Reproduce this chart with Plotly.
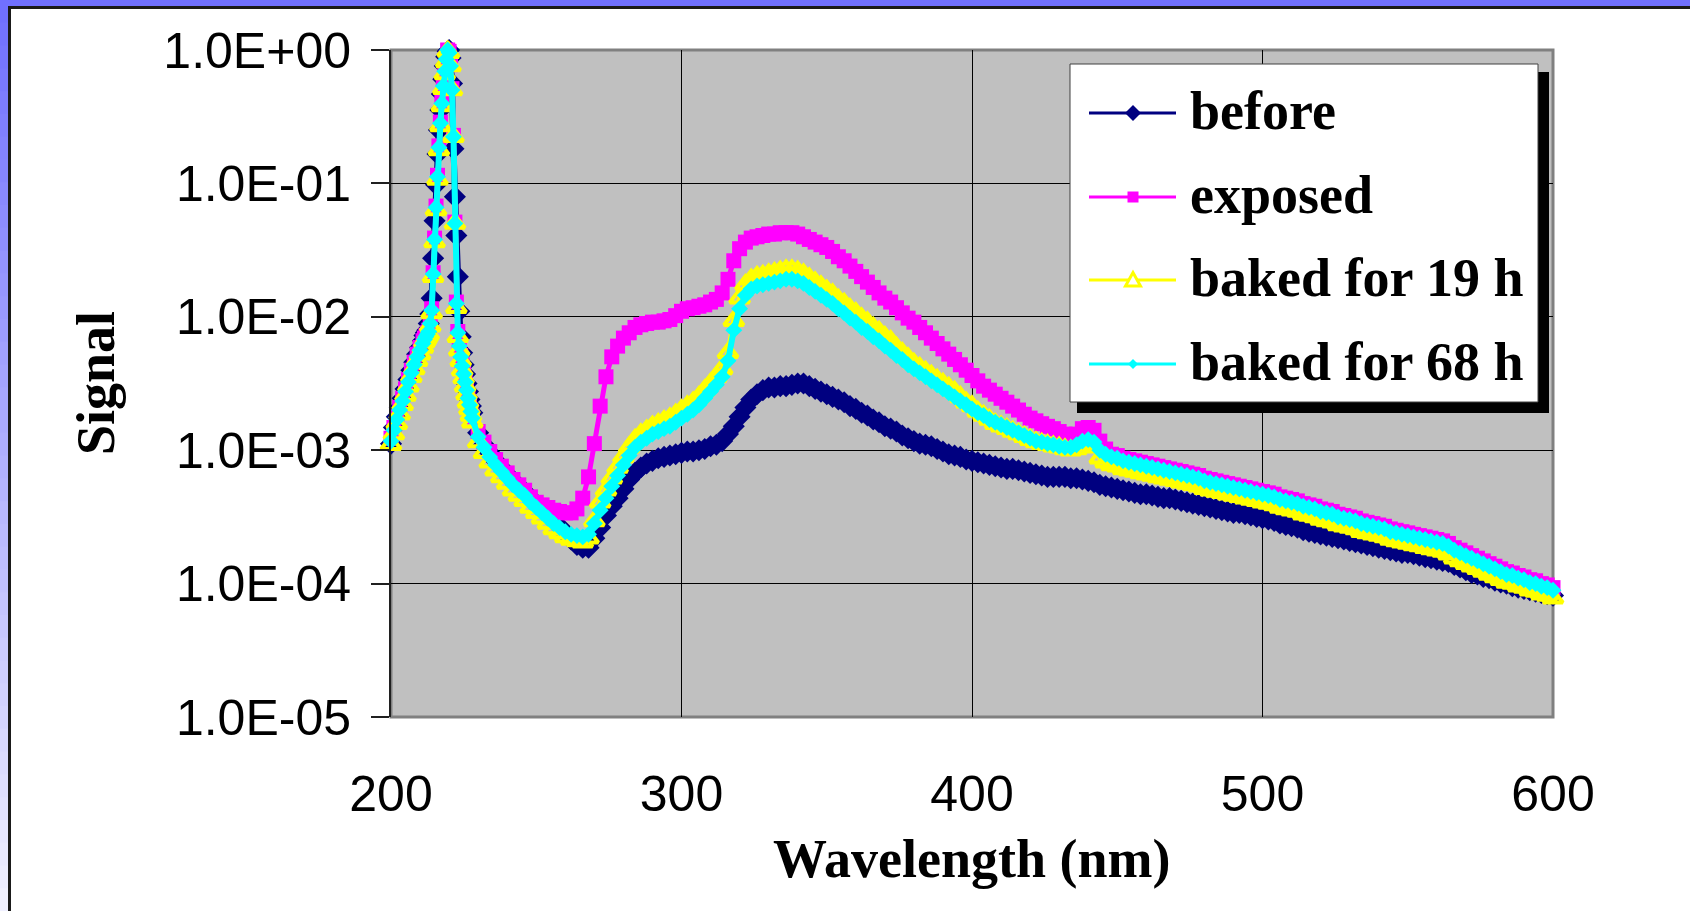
import numpy as np
import plotly.graph_objects as go

# ---------------------------------------------------------------- data
# wavelength grid (nm): 1 nm steps, 0.5 nm around the 220 nm line, 2 nm above
wavelength = np.concatenate([
    np.arange(200, 211.5, 1.0),
    np.arange(211.5, 228.25, 0.5),
    np.arange(230, 600.5, 2.0),
])

before = [
    1.12e-3, 1.48e-3, 1.78e-3, 2.09e-3, 2.45e-3, 2.88e-3, 3.39e-3, 3.98e-3, 4.57e-3, 5.25e-3, 5.89e-3, 6.61e-3,
    7.24e-3, 7.59e-3, 7.94e-3, 8.91e-3, 1.05e-2, 1.38e-2, 2.75e-2, 5.25e-2, 9.77e-2, 0.166, 0.251, 0.355,
    0.468, 0.603, 0.759, 0.891, 0.977, 1.0, 0.871, 0.562, 0.182, 7.94e-2, 4.07e-2, 2.00e-2, 1.10e-2,
    7.08e-3, 5.37e-3, 4.37e-3, 3.72e-3, 3.16e-3, 2.75e-3, 2.40e-3, 2.14e-3, 1.91e-3,
    1.35e-3, 1.10e-3, 9.55e-4, 8.32e-4, 7.41e-4, 6.61e-4, 5.89e-4, 5.37e-4, 4.90e-4, 4.37e-4,
    3.98e-4, 3.63e-4, 3.31e-4, 2.95e-4, 2.69e-4, 2.40e-4, 2.14e-4, 1.95e-4, 1.86e-4, 1.86e-4,
    2.19e-4, 2.63e-4, 3.24e-4, 3.80e-4, 4.37e-4, 5.13e-4, 6.03e-4, 6.76e-4, 7.41e-4, 7.94e-4,
    8.32e-4, 8.71e-4, 8.91e-4, 9.12e-4, 9.33e-4, 9.55e-4, 9.77e-4, 9.77e-4, 1.00e-3, 1.02e-3,
    1.07e-3, 1.10e-3, 1.17e-3, 1.32e-3, 1.51e-3, 1.78e-3, 2.09e-3, 2.40e-3, 2.63e-3, 2.82e-3,
    2.95e-3, 2.95e-3, 3.02e-3, 3.02e-3, 3.09e-3, 3.16e-3, 3.16e-3, 3.02e-3, 2.88e-3, 2.75e-3,
    2.63e-3, 2.51e-3, 2.40e-3, 2.29e-3, 2.14e-3, 2.04e-3, 1.91e-3, 1.82e-3, 1.70e-3, 1.62e-3,
    1.51e-3, 1.45e-3, 1.38e-3, 1.29e-3, 1.23e-3, 1.17e-3, 1.12e-3, 1.10e-3, 1.07e-3, 1.02e-3,
    9.77e-4, 9.33e-4, 9.12e-4, 8.91e-4, 8.51e-4, 8.32e-4, 8.13e-4, 7.94e-4, 7.76e-4, 7.59e-4,
    7.41e-4, 7.24e-4, 7.24e-4, 7.08e-4, 6.92e-4, 6.76e-4, 6.61e-4, 6.46e-4, 6.31e-4, 6.31e-4,
    6.31e-4, 6.31e-4, 6.17e-4, 6.17e-4, 6.03e-4, 5.89e-4, 5.75e-4, 5.50e-4, 5.37e-4, 5.25e-4,
    5.13e-4, 5.01e-4, 4.90e-4, 4.79e-4, 4.68e-4, 4.68e-4, 4.57e-4, 4.47e-4, 4.37e-4, 4.37e-4,
    4.27e-4, 4.17e-4, 4.07e-4, 3.98e-4, 3.89e-4, 3.80e-4, 3.72e-4, 3.63e-4, 3.55e-4, 3.47e-4,
    3.39e-4, 3.39e-4, 3.31e-4, 3.24e-4, 3.16e-4, 3.09e-4, 3.02e-4, 2.95e-4, 2.82e-4, 2.75e-4,
    2.69e-4, 2.63e-4, 2.51e-4, 2.45e-4, 2.40e-4, 2.34e-4, 2.29e-4, 2.24e-4, 2.19e-4, 2.14e-4,
    2.09e-4, 2.04e-4, 2.00e-4, 1.95e-4, 1.91e-4, 1.86e-4, 1.82e-4, 1.78e-4, 1.74e-4, 1.70e-4,
    1.70e-4, 1.66e-4, 1.62e-4, 1.58e-4, 1.55e-4, 1.51e-4, 1.48e-4, 1.45e-4, 1.38e-4, 1.32e-4,
    1.26e-4, 1.20e-4, 1.17e-4, 1.12e-4, 1.10e-4, 1.05e-4, 1.02e-4, 1.00e-4, 9.55e-5, 9.33e-5,
    9.12e-5, 8.91e-5, 8.71e-5, 8.51e-5, 8.32e-5, 8.13e-5,
]

exposed = [
    1.23e-3, 1.48e-3, 1.78e-3, 2.09e-3, 2.45e-3, 2.88e-3, 3.39e-3, 3.98e-3, 4.57e-3, 5.25e-3, 5.89e-3, 6.61e-3,
    6.92e-3, 7.24e-3, 7.59e-3, 7.94e-3, 9.12e-3, 1.15e-2, 2.14e-2, 3.89e-2, 6.76e-2, 0.115, 0.191, 0.288,
    0.407, 0.550, 0.708, 0.871, 1.0, 0.977, 0.776, 0.513, 0.229, 5.13e-2, 1.29e-2, 7.76e-3, 6.17e-3,
    5.13e-3, 4.37e-3, 3.80e-3, 3.31e-3, 2.88e-3, 2.51e-3, 2.24e-3, 2.00e-3, 1.78e-3,
    1.38e-3, 1.15e-3, 9.77e-4, 8.51e-4, 7.59e-4, 6.76e-4, 6.03e-4, 5.50e-4, 5.01e-4, 4.47e-4,
    4.07e-4, 3.89e-4, 3.72e-4, 3.55e-4, 3.47e-4, 3.39e-4, 3.39e-4, 3.63e-4, 4.37e-4, 6.31e-4,
    1.12e-3, 2.14e-3, 3.55e-3, 5.01e-3, 6.03e-3, 6.92e-3, 7.59e-3, 8.32e-3, 8.71e-3, 8.91e-3,
    9.12e-3, 9.12e-3, 9.33e-3, 9.55e-3, 1.02e-2, 1.10e-2, 1.15e-2, 1.17e-2, 1.20e-2, 1.23e-2,
    1.29e-2, 1.35e-2, 1.51e-2, 1.91e-2, 2.63e-2, 3.24e-2, 3.63e-2, 3.89e-2, 3.98e-2, 4.07e-2,
    4.17e-2, 4.17e-2, 4.27e-2, 4.27e-2, 4.27e-2, 4.17e-2, 3.98e-2, 3.80e-2, 3.63e-2, 3.47e-2,
    3.31e-2, 3.09e-2, 2.82e-2, 2.63e-2, 2.40e-2, 2.19e-2, 2.00e-2, 1.82e-2, 1.66e-2, 1.51e-2,
    1.38e-2, 1.29e-2, 1.17e-2, 1.07e-2, 9.77e-3, 9.12e-3, 8.32e-3, 7.59e-3, 6.92e-3, 6.31e-3,
    5.75e-3, 5.25e-3, 4.79e-3, 4.37e-3, 3.98e-3, 3.63e-3, 3.31e-3, 3.02e-3, 2.82e-3, 2.63e-3,
    2.45e-3, 2.29e-3, 2.14e-3, 2.00e-3, 1.86e-3, 1.74e-3, 1.66e-3, 1.58e-3, 1.51e-3, 1.45e-3,
    1.38e-3, 1.32e-3, 1.29e-3, 1.32e-3, 1.45e-3, 1.48e-3, 1.41e-3, 1.17e-3, 1.02e-3, 9.33e-4,
    9.12e-4, 8.71e-4, 8.51e-4, 8.32e-4, 8.13e-4, 7.94e-4, 7.76e-4, 7.59e-4, 7.41e-4, 7.24e-4,
    7.08e-4, 6.92e-4, 6.76e-4, 6.61e-4, 6.46e-4, 6.17e-4, 6.03e-4, 5.89e-4, 5.75e-4, 5.62e-4,
    5.50e-4, 5.37e-4, 5.25e-4, 5.13e-4, 5.01e-4, 4.90e-4, 4.79e-4, 4.68e-4, 4.47e-4, 4.37e-4,
    4.27e-4, 4.17e-4, 3.98e-4, 3.89e-4, 3.80e-4, 3.63e-4, 3.55e-4, 3.47e-4, 3.31e-4, 3.24e-4,
    3.16e-4, 3.09e-4, 2.95e-4, 2.88e-4, 2.82e-4, 2.75e-4, 2.69e-4, 2.57e-4, 2.51e-4, 2.45e-4,
    2.40e-4, 2.34e-4, 2.29e-4, 2.24e-4, 2.19e-4, 2.14e-4, 2.09e-4, 2.00e-4, 1.86e-4, 1.78e-4,
    1.70e-4, 1.62e-4, 1.55e-4, 1.48e-4, 1.41e-4, 1.35e-4, 1.29e-4, 1.23e-4, 1.20e-4, 1.15e-4,
    1.12e-4, 1.07e-4, 1.05e-4, 1.00e-4, 9.77e-5, 9.33e-5,
]

baked_19h = [
    1.10e-3, 1.32e-3, 1.58e-3, 1.86e-3, 2.19e-3, 2.57e-3, 3.02e-3, 3.55e-3, 4.07e-3, 4.68e-3, 5.25e-3, 5.89e-3,
    6.46e-3, 6.76e-3, 7.08e-3, 7.41e-3, 8.51e-3, 1.07e-2, 2.00e-2, 3.63e-2, 6.31e-2, 0.107, 0.178, 0.269,
    0.380, 0.513, 0.661, 0.813, 0.977, 0.955, 0.759, 0.501, 0.224, 5.01e-2, 1.17e-2, 7.08e-3, 5.62e-3,
    4.68e-3, 3.98e-3, 3.47e-3, 3.02e-3, 2.63e-3, 2.29e-3, 2.04e-3, 1.82e-3, 1.62e-3,
    1.15e-3, 9.55e-4, 8.13e-4, 7.08e-4, 6.31e-4, 5.62e-4, 5.01e-4, 4.57e-4, 4.17e-4, 3.72e-4,
    3.39e-4, 3.09e-4, 2.82e-4, 2.57e-4, 2.40e-4, 2.24e-4, 2.14e-4, 2.09e-4, 2.04e-4, 2.19e-4,
    2.95e-4, 4.07e-4, 5.01e-4, 6.17e-4, 7.41e-4, 8.91e-4, 1.05e-3, 1.20e-3, 1.32e-3, 1.41e-3,
    1.51e-3, 1.58e-3, 1.66e-3, 1.74e-3, 1.86e-3, 2.00e-3, 2.14e-3, 2.29e-3, 2.51e-3, 2.82e-3,
    3.16e-3, 3.55e-3, 4.07e-3, 5.37e-3, 9.33e-3, 1.38e-2, 1.74e-2, 1.91e-2, 2.00e-2, 2.04e-2,
    2.09e-2, 2.14e-2, 2.19e-2, 2.24e-2, 2.24e-2, 2.19e-2, 2.09e-2, 1.95e-2, 1.82e-2, 1.70e-2,
    1.58e-2, 1.48e-2, 1.35e-2, 1.26e-2, 1.15e-2, 1.07e-2, 9.77e-3, 9.12e-3, 8.32e-3, 7.76e-3,
    7.08e-3, 6.61e-3, 5.89e-3, 5.37e-3, 4.90e-3, 4.47e-3, 4.17e-3, 3.89e-3, 3.63e-3, 3.39e-3,
    3.16e-3, 2.95e-3, 2.75e-3, 2.51e-3, 2.29e-3, 2.14e-3, 1.95e-3, 1.82e-3, 1.70e-3, 1.58e-3,
    1.51e-3, 1.45e-3, 1.38e-3, 1.32e-3, 1.26e-3, 1.20e-3, 1.15e-3, 1.12e-3, 1.10e-3, 1.07e-3,
    1.05e-3, 1.02e-3, 1.00e-3, 1.02e-3, 1.10e-3, 1.12e-3, 1.05e-3, 8.71e-4, 8.13e-4, 7.76e-4,
    7.59e-4, 7.24e-4, 7.08e-4, 6.92e-4, 6.76e-4, 6.61e-4, 6.46e-4, 6.31e-4, 6.17e-4, 6.03e-4,
    5.89e-4, 5.75e-4, 5.62e-4, 5.50e-4, 5.37e-4, 5.13e-4, 5.01e-4, 4.90e-4, 4.79e-4, 4.68e-4,
    4.57e-4, 4.47e-4, 4.37e-4, 4.27e-4, 4.17e-4, 4.07e-4, 3.98e-4, 3.89e-4, 3.72e-4, 3.63e-4,
    3.55e-4, 3.47e-4, 3.31e-4, 3.24e-4, 3.16e-4, 3.02e-4, 2.95e-4, 2.88e-4, 2.75e-4, 2.69e-4,
    2.63e-4, 2.57e-4, 2.45e-4, 2.40e-4, 2.34e-4, 2.29e-4, 2.24e-4, 2.14e-4, 2.09e-4, 2.04e-4,
    2.00e-4, 1.95e-4, 1.91e-4, 1.86e-4, 1.82e-4, 1.78e-4, 1.74e-4, 1.66e-4, 1.55e-4, 1.48e-4,
    1.41e-4, 1.35e-4, 1.29e-4, 1.23e-4, 1.17e-4, 1.12e-4, 1.07e-4, 1.02e-4, 1.00e-4, 9.55e-5,
    9.33e-5, 8.91e-5, 8.71e-5, 8.32e-5, 8.13e-5, 7.76e-5,
]

baked_68h = [
    1.17e-3, 1.41e-3, 1.70e-3, 2.00e-3, 2.34e-3, 2.75e-3, 3.24e-3, 3.80e-3, 4.37e-3, 5.01e-3, 5.62e-3, 6.31e-3,
    6.76e-3, 7.08e-3, 7.41e-3, 7.76e-3, 8.91e-3, 1.12e-2, 2.09e-2, 3.80e-2, 6.61e-2, 0.112, 0.186, 0.282,
    0.398, 0.537, 0.692, 0.851, 1.0, 0.955, 0.759, 0.501, 0.224, 5.01e-2, 1.26e-2, 7.59e-3, 6.03e-3,
    5.01e-3, 4.27e-3, 3.72e-3, 3.24e-3, 2.82e-3, 2.45e-3, 2.19e-3, 1.95e-3, 1.74e-3,
    1.26e-3, 1.05e-3, 8.91e-4, 7.76e-4, 6.92e-4, 6.17e-4, 5.50e-4, 5.01e-4, 4.57e-4, 4.07e-4,
    3.72e-4, 3.39e-4, 3.09e-4, 2.82e-4, 2.63e-4, 2.45e-4, 2.34e-4, 2.29e-4, 2.24e-4, 2.34e-4,
    2.82e-4, 3.55e-4, 4.37e-4, 5.37e-4, 6.46e-4, 7.76e-4, 9.12e-4, 1.05e-3, 1.15e-3, 1.23e-3,
    1.32e-3, 1.38e-3, 1.45e-3, 1.51e-3, 1.62e-3, 1.74e-3, 1.86e-3, 2.00e-3, 2.19e-3, 2.45e-3,
    2.75e-3, 3.09e-3, 3.55e-3, 4.68e-3, 7.94e-3, 1.15e-2, 1.45e-2, 1.62e-2, 1.70e-2, 1.74e-2,
    1.78e-2, 1.82e-2, 1.86e-2, 1.91e-2, 1.91e-2, 1.86e-2, 1.78e-2, 1.66e-2, 1.55e-2, 1.45e-2,
    1.35e-2, 1.26e-2, 1.15e-2, 1.07e-2, 9.77e-3, 9.12e-3, 8.32e-3, 7.76e-3, 7.08e-3, 6.61e-3,
    6.03e-3, 5.62e-3, 5.13e-3, 4.79e-3, 4.37e-3, 4.07e-3, 3.80e-3, 3.55e-3, 3.31e-3, 3.09e-3,
    2.88e-3, 2.69e-3, 2.51e-3, 2.34e-3, 2.19e-3, 2.04e-3, 1.91e-3, 1.82e-3, 1.70e-3, 1.62e-3,
    1.55e-3, 1.48e-3, 1.41e-3, 1.35e-3, 1.29e-3, 1.23e-3, 1.17e-3, 1.15e-3, 1.12e-3, 1.10e-3,
    1.07e-3, 1.05e-3, 1.05e-3, 1.10e-3, 1.17e-3, 1.20e-3, 1.15e-3, 1.00e-3, 9.33e-4, 8.91e-4,
    8.71e-4, 8.32e-4, 8.13e-4, 7.94e-4, 7.76e-4, 7.59e-4, 7.41e-4, 7.24e-4, 7.08e-4, 6.92e-4,
    6.76e-4, 6.61e-4, 6.46e-4, 6.31e-4, 6.17e-4, 5.89e-4, 5.75e-4, 5.62e-4, 5.50e-4, 5.37e-4,
    5.25e-4, 5.13e-4, 5.01e-4, 4.90e-4, 4.79e-4, 4.68e-4, 4.57e-4, 4.47e-4, 4.27e-4, 4.17e-4,
    4.07e-4, 3.98e-4, 3.80e-4, 3.72e-4, 3.63e-4, 3.47e-4, 3.39e-4, 3.31e-4, 3.16e-4, 3.09e-4,
    3.02e-4, 2.95e-4, 2.82e-4, 2.75e-4, 2.69e-4, 2.63e-4, 2.57e-4, 2.45e-4, 2.40e-4, 2.34e-4,
    2.29e-4, 2.24e-4, 2.19e-4, 2.14e-4, 2.09e-4, 2.04e-4, 2.00e-4, 1.91e-4, 1.78e-4, 1.70e-4,
    1.62e-4, 1.55e-4, 1.48e-4, 1.41e-4, 1.35e-4, 1.29e-4, 1.23e-4, 1.17e-4, 1.15e-4, 1.10e-4,
    1.07e-4, 1.02e-4, 1.00e-4, 9.55e-5, 9.33e-5, 8.91e-5,
]

series_names = ["before", "exposed", "baked for 19 h", "baked for 68 h"]
y_tick_values = [1.0, 1e-1, 1e-2, 1e-3, 1e-4, 1e-5]
y_tick_labels = ["1.0E+00", "1.0E-01", "1.0E-02", "1.0E-03", "1.0E-04", "1.0E-05"]
x_tick_values = [200, 300, 400, 500, 600]

# ---------------------------------------------------------------- styling
W, H = 1690, 911
SANS = "Liberation Sans, Arial, sans-serif"
SERIF = "Liberation Serif, Times New Roman, serif"

PLOT_L, PLOT_R, PLOT_T, PLOT_B = 391, 1553, 50, 717


def fx(px):
    return px / W


def fy(py):
    return 1 - py / H


styles = [
    dict(color="#000080", symbol="diamond", size=17, lw=6.0, mlw=0),
    dict(color="#FF00FF", symbol="square", size=15, lw=5.0, mlw=0),
    dict(color="#FFFF00", symbol="triangle-up-open", size=17, lw=5.0, mlw=4),
    dict(color="#00FFFF", symbol="diamond", size=13, lw=6.0, mlw=0),
]

fig = go.Figure()
for name, values, st in zip(series_names, [before, exposed, baked_19h, baked_68h], styles):
    fig.add_trace(go.Scatter(
        x=wavelength, y=values, name=name, mode="lines+markers",
        line=dict(color=st["color"], width=st["lw"]),
        marker=dict(symbol=st["symbol"], size=st["size"], color=st["color"],
                    line=dict(width=st["mlw"], color=st["color"])),
        cliponaxis=False, showlegend=False,
    ))

shapes = []

# slide frame: blue band on top, fading blue band on the left, dark rule inside
n_strips = 40
for i in range(n_strips):
    t = i / (n_strips - 1)
    r = int(112 + (240 - 112) * t)
    shapes.append(dict(type="rect", xref="paper", yref="paper", layer="below",
                       x0=fx(0), x1=fx(8), y0=fy(i * H / n_strips), y1=fy(min(H, (i + 1) * H / n_strips + 1)),
                       fillcolor=f"rgb({r},{r},255)", line=dict(width=0)))
shapes.append(dict(type="rect", xref="paper", yref="paper", layer="below",
                   x0=0, x1=1, y0=fy(0), y1=fy(6), fillcolor="#7070FF", line=dict(width=0)))
shapes.append(dict(type="line", xref="paper", yref="paper", layer="below",
                   x0=fx(9.5), x1=fx(9.5), y0=fy(6), y1=fy(H), line=dict(color="#1a1a1a", width=3)))
shapes.append(dict(type="line", xref="paper", yref="paper", layer="below",
                   x0=fx(8), x1=1, y0=fy(7.5), y1=fy(7.5), line=dict(color="#1a1a1a", width=3)))

# plot-area border
shapes.append(dict(type="rect", xref="paper", yref="paper", layer="between",
                   x0=fx(PLOT_L), x1=fx(PLOT_R), y0=fy(PLOT_B), y1=fy(PLOT_T),
                   line=dict(color="#808080", width=3)))

# legend box with drop shadow
LG_L, LG_R, LG_T, LG_B = 1070, 1538, 64, 402
shapes.append(dict(type="rect", xref="paper", yref="paper", layer="above",
                   x0=fx(LG_L + 7), x1=fx(LG_R + 11), y0=fy(LG_B + 11), y1=fy(LG_T + 8),
                   fillcolor="black", line=dict(width=0)))
shapes.append(dict(type="rect", xref="paper", yref="paper", layer="above",
                   x0=fx(LG_L), x1=fx(LG_R), y0=fy(LG_B), y1=fy(LG_T),
                   fillcolor="white", line=dict(color="#404040", width=1)))

row_y = [113, 197, 280, 364]
sym_x = 1133
for st, ry in zip(styles, row_y):
    shapes.append(dict(type="line", xref="paper", yref="paper", layer="above",
                       x0=fx(1089), x1=fx(1176), y0=fy(ry), y1=fy(ry),
                       line=dict(color=st["color"], width=3)))


def path(points):
    return "M " + " L ".join(f"{fx(a):.6f},{fy(b):.6f}" for a, b in points) + " Z"


# legend glyphs
shapes.append(dict(type="path", xref="paper", yref="paper", layer="above",
                   path=path([(sym_x - 8, row_y[0]), (sym_x, row_y[0] - 8), (sym_x + 8, row_y[0]), (sym_x, row_y[0] + 8)]),
                   fillcolor=styles[0]["color"], line=dict(width=0)))
shapes.append(dict(type="rect", xref="paper", yref="paper", layer="above",
                   x0=fx(sym_x - 5.5), x1=fx(sym_x + 5.5), y0=fy(row_y[1] + 5.5), y1=fy(row_y[1] - 5.5),
                   fillcolor=styles[1]["color"], line=dict(width=0)))
shapes.append(dict(type="path", xref="paper", yref="paper", layer="above",
                   path=path([(sym_x - 7.5, row_y[2] + 6), (sym_x, row_y[2] - 7.5), (sym_x + 7.5, row_y[2] + 6)]),
                   fillcolor="white", line=dict(color=styles[2]["color"], width=3)))
shapes.append(dict(type="path", xref="paper", yref="paper", layer="above",
                   path=path([(sym_x - 5, row_y[3]), (sym_x, row_y[3] - 5), (sym_x + 5, row_y[3]), (sym_x, row_y[3] + 5)]),
                   fillcolor=styles[3]["color"], line=dict(width=0)))

annotations = []
for name, ry in zip(series_names, row_y):
    annotations.append(dict(xref="paper", yref="paper", x=fx(1188), y=fy(ry - 2), xanchor="left", yanchor="middle",
                            text=name, showarrow=False,
                            font=dict(family=SERIF, size=54, color="black", weight="bold")))

annotations.append(dict(xref="paper", yref="paper", x=fx(972), y=fy(859), xanchor="center", yanchor="middle",
                        text="Wavelength (nm)", showarrow=False,
                        font=dict(family=SERIF, size=54, color="black", weight="bold")))
annotations.append(dict(xref="paper", yref="paper", x=fx(96), y=fy(383), xanchor="center", yanchor="middle",
                        text="Signal", textangle=-90, showarrow=False,
                        font=dict(family=SERIF, size=54, color="black", weight="bold")))

fig.update_layout(
    width=W, height=H, autosize=False,
    margin=dict(l=0, r=0, t=0, b=0, pad=0, autoexpand=False),
    paper_bgcolor="white", plot_bgcolor="#C0C0C0",
    showlegend=False,
    shapes=shapes, annotations=annotations,
    xaxis=dict(domain=[fx(PLOT_L), fx(PLOT_R)], range=[200, 600], tickmode="array",
               tickvals=x_tick_values, ticktext=[str(v) for v in x_tick_values],
               tickfont=dict(family=SANS, size=50, color="black"),
               showgrid=True, gridcolor="black", gridwidth=1, zeroline=False,
               showline=False, ticks="", ticklabelstandoff=43, automargin=False),
    yaxis=dict(domain=[fy(PLOT_B), fy(PLOT_T)], type="log", range=[-5, 0], tickmode="array",
               tickvals=y_tick_values, ticktext=y_tick_labels,
               tickfont=dict(family=SANS, size=50, color="black"),
               showgrid=True, gridcolor="black", gridwidth=1, zeroline=False,
               showline=True, linecolor="#202020", linewidth=2,
               ticks="outside", ticklen=18, tickwidth=2, tickcolor="#202020",
               ticklabelstandoff=10, automargin=False),
)

fig.write_html("out.html", post_script="document.body.style.margin='0';")
